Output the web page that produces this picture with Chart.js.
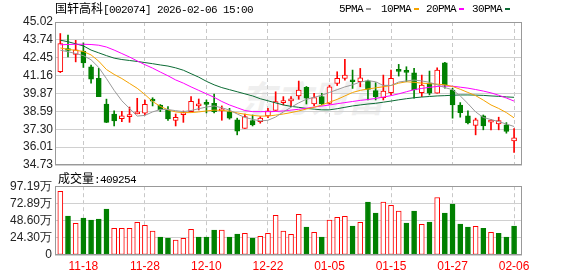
<!DOCTYPE html>
<html>
<head>
<meta charset="utf-8">
<script src="https://cdn.jsdelivr.net/npm/chart.js@4.4.1/dist/chart.umd.min.js"></script>
<style>
  body { margin:0; width:578px; height:276px; background:#fff; position:relative; overflow:hidden; font-family:"Liberation Sans", Arial, sans-serif; }
  canvas { position:absolute; left:0; }
  .txt { position:absolute; white-space:nowrap; color:#000; font-size:12px; line-height:14px; }
  .cjk { font-family:"Noto Sans CJK SC", sans-serif; font-size:12px; }
  .mono { font-family:"Liberation Mono", monospace; font-size:11px; letter-spacing:-0.6px; }
  .dash { position:absolute; width:5px; height:2px; }
  #wm { position:absolute; left:240px; top:70px; font:bold 36px "Noto Sans CJK SC", sans-serif; color:#efefef; font-style:italic; }
</style>
</head>
<body>
<div id="wm">东方财富</div>
<canvas id="price" width="578" height="176" style="top:0"></canvas>
<canvas id="vol" width="578" height="100" style="top:176px"></canvas>
<div class="txt" style="left:55px;top:1px"><span class="cjk">国轩高科</span><span class="mono">[002074] 2026-02-06 15:00</span></div>
<div id="legend"></div>
<div class="txt" style="left:58px;top:171px"><span class="cjk">成交量</span><span class="mono">:409254</span></div>
<script>
// trading days shown
const dates = ['11-13','11-14','11-17','11-18','11-19','11-20','11-21','11-24','11-25','11-26','11-27','11-28',
  '12-01','12-02','12-03','12-04','12-05','12-08','12-09','12-10','12-11','12-12','12-15','12-16','12-17','12-18','12-19','12-22',
  '12-23','12-24','12-25','12-26','12-29','12-30','12-31',
  '01-05','01-06','01-07','01-08','01-09','01-12','01-13','01-14','01-15','01-16','01-19','01-20','01-21','01-22','01-23','01-26','01-27',
  '01-28','01-29','01-30','02-02','02-03','02-04','02-05','02-06'];
const tickDates = ['11-18','11-28','12-10','12-22','01-05','01-15','01-27','02-06'];

const openP  = [41.44,43.08,42.68,42.92,41.80,40.96,39.11,38.39,38.07,38.21,38.41,38.46,39.36,39.05,38.69,37.93,38.36,38.57,38.98,39.13,
  39.17,38.62,38.57,37.98,37.37,37.93,37.85,38.26,38.66,39.22,39.34,39.70,40.32,39.12,39.65,39.17,40.60,40.96,40.77,40.72,
  40.79,40.08,39.57,39.93,41.52,41.46,41.37,39.93,40.61,39.89,42.08,40.13,39.05,38.26,37.57,38.26,37.81,37.69,37.62,36.47];
const highP  = [44.19,44.07,43.70,43.52,41.92,41.68,39.47,38.63,38.59,38.90,39.53,39.41,39.57,39.08,38.93,38.40,38.62,39.65,39.48,39.41,
  39.84,38.98,38.81,38.10,38.40,38.33,38.21,38.81,40.00,39.65,39.65,40.77,40.38,39.89,39.89,40.47,41.44,42.33,41.56,41.68,
  40.84,40.65,41.20,41.56,41.97,41.80,41.68,41.20,41.49,41.72,42.12,40.25,39.22,38.62,38.10,38.33,38.02,38.17,37.78,37.35];
const lowP   = [41.38,42.51,42.15,41.75,40.61,39.65,37.78,37.54,37.85,37.80,38.41,38.33,38.98,38.57,37.93,37.54,37.80,38.57,38.69,38.48,
  38.47,37.95,38.03,36.90,37.37,37.54,37.74,38.14,38.66,39.05,38.93,39.46,39.12,38.98,39.05,39.10,40.45,40.84,40.24,40.36,
  39.41,39.41,39.41,39.77,41.13,40.72,39.53,39.65,39.77,39.89,40.25,38.10,38.17,37.69,36.90,37.26,37.26,37.26,37.02,35.64];
const closeP = [43.47,42.97,43.02,42.08,40.91,39.65,37.80,37.91,38.26,38.33,38.53,39.10,39.33,38.69,38.05,38.16,38.48,39.31,39.12,39.09,
  38.57,38.74,38.10,37.17,38.21,37.62,38.10,38.62,39.29,39.36,39.46,40.13,39.53,39.58,39.12,40.35,40.96,41.20,40.72,41.01,
  40.17,39.65,40.05,40.96,41.47,41.40,40.13,40.48,39.89,41.56,40.48,39.05,38.50,37.75,37.98,37.54,37.95,37.93,37.14,36.68];
// volume, unit: 万
const volume = [90.1,54.9,44.6,52.1,49.3,50.7,64.8,37.6,37.6,37.6,46.0,41.8,33.8,25.4,23.9,21.1,23.5,36.2,25.4,25.4,
  35.2,35.2,25.4,29.6,30.5,23.9,26.3,30.5,55.9,33.8,29.1,57.3,39.4,31.9,25.4,49.3,53.1,54.5,40.8,46.0,
  74.7,59.2,74.7,70.0,62.0,45.1,62.0,43.2,46.5,81.2,59.2,71.8,43.7,39.4,40.4,37.6,31.9,30.5,25.4,40.93];

const ma5  = [42.99,42.88,42.75,42.60,42.30,41.75,40.95,40.10,39.35,38.80,38.25,38.30,38.55,38.72,38.72,38.64,38.57,38.65,38.78,38.90,
  38.98,38.85,38.68,38.40,38.15,38.02,37.90,37.95,38.18,38.55,38.88,39.20,39.46,39.60,39.75,39.95,40.15,40.35,40.50,40.70,
  40.80,40.72,40.45,40.45,40.70,40.78,40.84,40.78,40.68,40.50,40.30,40.15,39.70,39.15,38.55,38.15,38.00,37.85,37.68,37.50];
const ma10 = [43.15,43.05,42.98,42.90,42.65,42.20,41.60,41.25,40.95,40.60,40.25,39.80,39.30,38.95,38.70,38.55,38.50,38.50,38.55,38.62,
  38.68,38.66,38.60,38.48,38.38,38.30,38.25,38.25,38.32,38.40,38.50,38.62,38.76,38.88,39.05,39.25,39.45,39.70,39.95,40.10,
  40.20,40.28,40.36,40.45,40.62,40.72,40.68,40.62,40.58,40.55,40.50,40.38,40.18,39.95,39.72,39.40,39.05,38.80,38.50,38.12];
const ma20 = [43.38,43.40,43.42,43.42,43.40,43.35,43.22,43.00,42.75,42.50,42.22,41.95,41.70,41.42,41.15,40.85,40.62,40.35,40.10,39.85,
  39.60,39.30,39.05,38.85,38.65,38.57,38.57,38.57,38.58,38.62,38.68,38.74,38.82,38.90,38.97,39.05,39.14,39.22,39.30,39.38,
  39.44,39.52,39.62,39.72,39.85,40.00,40.15,40.24,40.32,40.38,40.41,40.40,40.33,40.26,40.16,40.05,39.92,39.75,39.55,39.33];
const ma30 = [43.71,43.60,43.45,43.30,43.00,42.80,42.60,42.42,42.32,42.25,42.18,42.10,42.02,41.93,41.85,41.72,41.55,41.30,41.05,40.75,
  40.50,40.30,40.15,40.00,39.85,39.70,39.50,39.35,39.20,39.05,38.95,38.88,38.80,38.75,38.70,38.70,38.78,38.88,38.98,39.05,
  39.12,39.17,39.25,39.33,39.42,39.50,39.57,39.62,39.66,39.70,39.72,39.75,39.77,39.77,39.76,39.74,39.70,39.67,39.63,39.60];
const maLabels = ['5PMA','10PMA','20PMA','30PMA'];

const priceTicks = ['34.73','36.01','37.30','38.59','39.87','41.16','42.45','43.74','45.02'];
const volTicks = ['0','24.30万','48.60万','72.89万','97.19万'];

const RED = '#ff0000', GREEN = '#008000';
const maColors = ['#999999','#f5a300','#ff00ff','#0b6b34'];
const maData = [ma5, ma10, ma20, ma30];

// legend at the top right
const legend = document.getElementById('legend');
const legendX = [339, 381, 426, 472];
maLabels.forEach((lab, k) => {
  const t = document.createElement('div');
  t.className = 'txt mono';
  t.style.left = legendX[k] + 'px';
  t.style.top = '2px';
  t.textContent = lab;
  legend.appendChild(t);
  const d = document.createElement('div');
  d.className = 'dash';
  d.style.left = (legendX[k] + lab.length * 6 + 3) + 'px';
  d.style.top = '8px';
  d.style.background = maColors[k];
  legend.appendChild(d);
});

const idx = dates.map((d, i) => i);
const candleUp = idx.map(i => closeP[i] >= openP[i]);
const volUp = idx.map(i => i === 0 ? closeP[0] >= openP[0] : closeP[i] >= closeP[i - 1]);
const tickIdx = tickDates.map(d => dates.indexOf(d));

const framePlugin = {
  id: 'frame',
  afterDraw(chart) {
    const { ctx, chartArea: a } = chart;
    ctx.save();
    ctx.strokeStyle = '#999';
    ctx.lineWidth = 1;
    ctx.strokeRect(Math.round(a.left) + 0.5, Math.round(a.top) + 0.5,
      Math.round(a.right - a.left) - 1, Math.round(a.bottom - a.top) - 1);
    ctx.restore();
  }
};

function xScale(showLabels) {
  return {
    type: 'linear', min: -0.69, max: 60.03, offset: false,
    afterBuildTicks: s => { s.ticks = tickIdx.map(v => ({ value: v })); },
    ticks: {
      display: showLabels, autoSkip: false, maxRotation: 0, padding: 4,
      color: RED, font: { family: 'Liberation Sans', size: 12 },
      callback: v => dates[v]
    },
    grid: { color: '#c8c8c8', drawTicks: false, offset: false },
    border: { display: false, dash: [4, 3] },
    afterFit: s => { s.height = showLabels ? 21 : 0; }
  };
}

function evenTicks(min, max, n) {
  return s => {
    const out = [];
    for (let k = 0; k < n; k++) out.push({ value: min + (max - min) * k / (n - 1) });
    s.ticks = out;
  };
}

const common = {
  responsive: false, animation: false, events: [],
  plugins: { legend: { display: false }, tooltip: { enabled: false } }
};

new Chart(document.getElementById('price'), {
  type: 'bar',
  data: {
    datasets: [
      {
        label: 'wick', grouped: false, order: 3, barThickness: 1,
        data: idx.map(i => ({ x: i, y: [lowP[i], highP[i]] })),
        backgroundColor: idx.map(i => candleUp[i] ? RED : GREEN)
      },
      {
        label: 'body', grouped: false, order: 2, barThickness: 5, minBarLength: 2,
        data: idx.map(i => ({ x: i, y: [openP[i], closeP[i]] })),
        backgroundColor: idx.map(i => candleUp[i] ? '#ffffff' : GREEN),
        borderColor: idx.map(i => candleUp[i] ? RED : GREEN),
        borderWidth: 1, borderSkipped: false
      },
      ...maData.map((arr, k) => ({
        type: 'line', label: maLabels[k], order: 1,
        data: arr.map((v, i) => ({ x: i, y: v })),
        borderColor: maColors[k], borderWidth: 1, pointRadius: 0, tension: 0
      }))
    ]
  },
  options: {
    ...common,
    layout: { padding: { left: 0, right: 56, top: 22, bottom: 11 } },
    scales: {
      x: xScale(false),
      y: {
        min: 34.73, max: 45.02,
        afterBuildTicks: evenTicks(34.73, 45.02, priceTicks.length),
        ticks: { color: '#222', padding: 2, autoSkip: false, font: { family: 'Liberation Sans', size: 12 },
          callback: (v, i) => priceTicks[i] },
        grid: { color: '#d0d0d0', drawTicks: false },
        border: { display: false },
        afterFit: s => { s.width = 55; }
      }
    }
  },
  plugins: [framePlugin]
});

new Chart(document.getElementById('vol'), {
  type: 'bar',
  data: {
    datasets: [{
      label: 'volume', barThickness: 5,
      data: idx.map(i => ({ x: i, y: volume[i] })),
      backgroundColor: idx.map(i => volUp[i] ? '#ffffff' : GREEN),
      borderColor: idx.map(i => volUp[i] ? RED : GREEN),
      borderWidth: 1, borderSkipped: false
    }]
  },
  options: {
    ...common,
    layout: { padding: { left: 0, right: 56, top: 10, bottom: 0 } },
    scales: {
      x: xScale(true),
      y: {
        min: 0, max: 97.19,
        afterBuildTicks: evenTicks(0, 97.19, volTicks.length),
        ticks: { color: '#222', padding: 3, autoSkip: false, font: { family: 'Liberation Sans', size: 12 },
          callback: (v, i) => volTicks[i] },
        grid: { color: '#d0d0d0', drawTicks: false },
        border: { display: false },
        afterFit: s => { s.width = 55; }
      }
    }
  },
  plugins: [framePlugin]
});
</script>
</body>
</html>
